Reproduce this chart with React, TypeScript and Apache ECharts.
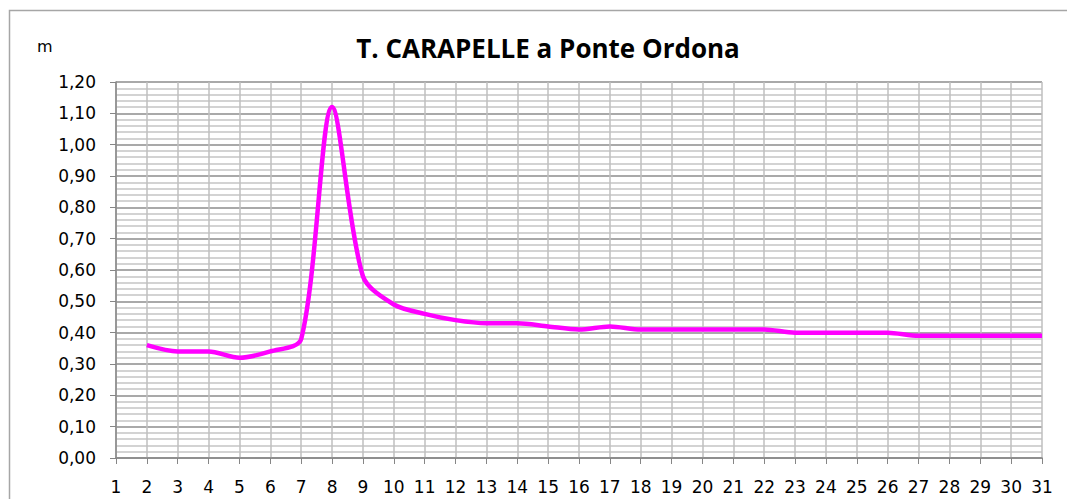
import React, { useEffect, useRef } from "react";
import * as echarts from "echarts";

const days = [2, 3, 4, 5, 6, 7, 8, 9, 10, 11, 12, 13, 14, 15, 16, 17, 18, 19, 20, 21, 22, 23, 24, 25, 26, 27, 28, 29, 30, 31];
const levels = [0.36, 0.34, 0.34, 0.32, 0.34, 0.38, 1.12, 0.58, 0.49, 0.46, 0.44, 0.43, 0.43, 0.42, 0.41, 0.42, 0.41, 0.41, 0.41, 0.41, 0.41, 0.40, 0.40, 0.40, 0.40, 0.39, 0.39, 0.39, 0.39, 0.39];
const title = "T. CARAPELLE a Ponte Ordona";
const unitLabel = "m";

export default function App() {
  const ref = useRef<HTMLDivElement>(null);
  useEffect(() => {
    if (!ref.current) return;
    const chart = echarts.init(ref.current, null, { renderer: "svg" });
    const titleFont = "'Open Sans', 'Noto Sans', sans-serif";
    const font = "'DejaVu Sans', 'Open Sans', sans-serif";
    chart.setOption({
      animation: false,
      backgroundColor: "#ffffff",
      title: {
        text: title,
        left: 543,
        top: 30,
        textAlign: "center",
        textStyle: { fontFamily: titleFont, fontSize: 26, fontWeight: "bold", color: "#000" },
      },
      graphic: [
        {
          type: "rect",
          shape: { x: 9.5, y: 10.5, width: 1100, height: 600 },
          style: { fill: "none", stroke: "#a6a6a6", lineWidth: 1.5 },
          silent: true,
        },
        {
          type: "text",
          x: 37,
          y: 46,
          style: { text: unitLabel, fontFamily: font, fontSize: 16, fill: "#000", verticalAlign: "middle" },
        },
      ],
      grid: { left: 116, right: 25, top: 82, bottom: 41, containLabel: false },
      xAxis: {
        type: "value",
        min: 1,
        max: 31,
        interval: 1,
        axisLine: { show: true, onZero: false, lineStyle: { color: "#868686", width: 1.5 } },
        axisTick: { show: true, length: 6, lineStyle: { color: "#868686" } },
        axisLabel: { fontFamily: font, fontSize: 17, color: "#000", margin: 20 },
        splitLine: { show: true, lineStyle: { color: "#bfbfbf", width: 1.5 } },
      },
      yAxis: {
        type: "value",
        min: 0,
        max: 1.2,
        interval: 0.1,
        axisLine: { show: true, lineStyle: { color: "#868686", width: 1.5 } },
        axisTick: { show: true, length: 6, lineStyle: { color: "#868686" } },
        axisLabel: {
          fontFamily: font,
          fontSize: 17,
          color: "#000",
          margin: 20,
          formatter: (v: number) => v.toFixed(2).replace(".", ","),
        },
        splitLine: { show: true, lineStyle: { color: "#8c8c8c", width: 1.5 } },
        minorTick: { show: false, splitNumber: 5 },
        minorSplitLine: { show: true, lineStyle: { color: "#c4c4c4", width: 1.5 } },
      },
      series: [
        {
          type: "line",
          data: days.map((d, i) => [d, levels[i]]),
          smooth: 0.3,
          showSymbol: false,
          lineStyle: { color: "#ff00ff", width: 4.5 },
          itemStyle: { color: "#ff00ff" },
        },
      ],
    });
    return () => chart.dispose();
  }, []);
  return <div ref={ref} style={{ position: "fixed", left: 0, top: 0, width: 1067, height: 499 }} />;
}
